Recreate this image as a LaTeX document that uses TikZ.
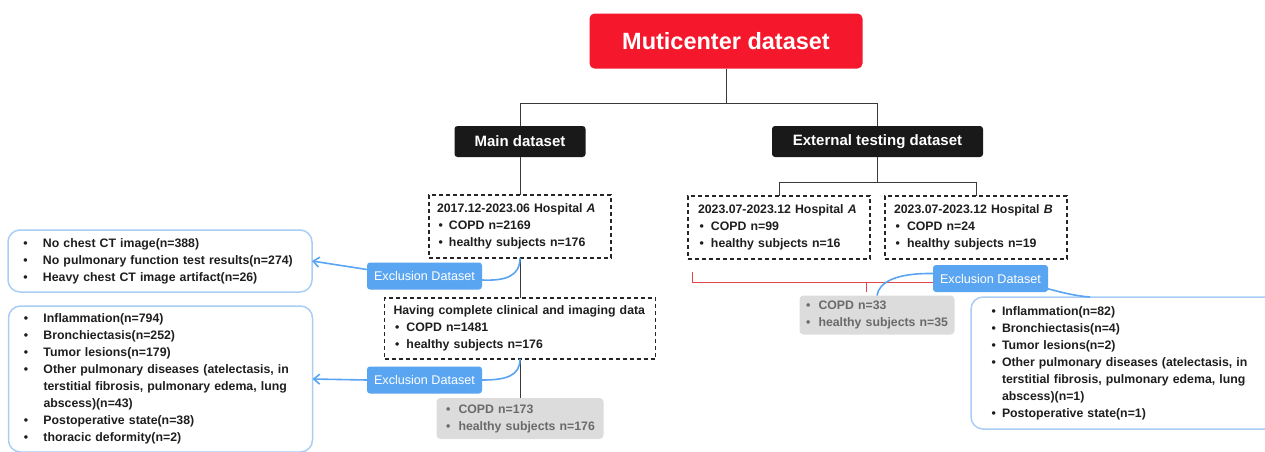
\documentclass[tikz,border=0pt]{standalone}
\usepackage{fontspec}
\setmainfont{Liberation Sans}
\usetikzlibrary{arrows.meta,calc}
\definecolor{redtop}{HTML}{F5182C}
\definecolor{exblue}{HTML}{5AA5F2}
\definecolor{lbblue}{HTML}{A9CDF5}
\definecolor{greyfill}{HTML}{DCDCDC}
\definecolor{greytext}{HTML}{6A6A6A}
\definecolor{conn}{HTML}{3A3A3A}
\definecolor{redln}{HTML}{E0474C}
\definecolor{txt}{HTML}{1E1E1E}
\newcommand{\itm}[2]{\makebox[#1][l]{\hspace{1.5pt}\textbullet}#2}
\begin{document}
\begin{tikzpicture}[x=1pt,y=-1pt,
  every node/.style={inner sep=0pt, outer sep=0pt},
  topbox/.style={fill=redtop, rounded corners=5pt, text=white, font=\fontsize{23.5}{27}\selectfont\bfseries},
  blackbox/.style={fill=black!90, rounded corners=3pt, text=white, font=\fontsize{15}{18}\selectfont\bfseries},
  dbox/.style={draw=black!85, dash pattern=on 4pt off 3pt, line width=1.3pt, text=txt, align=left,
    font=\fontsize{12.3}{17}\selectfont\bfseries},
  gbox/.style={fill=greyfill, rounded corners=4pt, text=greytext, align=left,
    font=\fontsize{12.3}{17}\selectfont\bfseries},
  exbox/.style={fill=exblue, rounded corners=3pt, text=white, font=\fontsize{12.6}{15}\selectfont,
    minimum width=115, minimum height=27},
  lbox/.style={draw=lbblue, line width=1.5pt, rounded corners=12pt, text=txt, align=left,
    font=\fontsize{12.3}{17}\selectfont\bfseries},
  conn/.style={draw=conn, line width=1pt},
  redc/.style={draw=redln, line width=1pt},
  bluec/.style={draw=exblue, line width=1.6pt},
  bluea/.style={draw=exblue, line width=1.6pt, -{Straight Barb[length=6pt,width=10pt]}}
]
\useasboundingbox (0,0) rectangle (1265,451);
\clip (0,0) rectangle (1265,451);

% top level
\node[topbox, minimum width=273, minimum height=55] (top) at (726,41) {Muticenter dataset};
\node[blackbox, minimum width=131, minimum height=31] (main) at (520,141.5) {Main dataset};
\node[blackbox, minimum width=211, minimum height=31] (ext) at (877.5,141.5) {External testing dataset};

% main branch
\node[dbox, minimum height=63, inner xsep=8, text width=166] (h1) at (520,226.5)
  {2017.12-2023.06 Hospital \textit{A}\\\itm{12pt}{COPD n=2169}\\\itm{12pt}{healthy subjects n=176}};
\node[dbox, minimum height=61, inner xsep=9, text width=253] (h2) at (520,328.5)
  {Having complete clinical and imaging data\\\itm{13pt}{COPD n=1481}\\\itm{13pt}{healthy subjects n=176}};
\node[gbox, minimum height=41, inner xsep=8, text width=151] (g1) at (520,418.5)
  {\itm{14pt}{COPD n=173}\\\itm{14pt}{healthy subjects n=176}};

\node[exbox] (e1) at (424.5,276) {Exclusion Dataset};
\node[exbox] (e2) at (424.5,380) {Exclusion Dataset};

\node[lbox, minimum height=62, inner xsep=14, text width=276] (l1) at (160,261)
  {\itm{21pt}{No chest CT image(n=388)}\\\itm{21pt}{No pulmonary function test results(n=274)}\\\itm{21pt}{Heavy chest CT image artifact(n=26)}};
\node[lbox, minimum height=146, inner xsep=14, text width=276] (l2) at (160.5,379)
  {\itm{21pt}{Inflammation(n=794)}\\\itm{21pt}{Bronchiectasis(n=252)}\\\itm{21pt}{Tumor lesions(n=179)}\\
   \itm{21pt}{Other pulmonary diseases (atelectasis, in}\\\hspace*{21pt}terstitial fibrosis, pulmonary edema, lung\\\hspace*{21pt}abscess)(n=43)\\
   \itm{21pt}{Postoperative state(n=38)}\\\itm{21pt}{thoracic deformity(n=2)}};

% external branch
\node[dbox, minimum height=63, inner xsep=10, text width=162] (hA) at (779,227.5)
  {2023.07-2023.12 Hospital \textit{A}\\\itm{13pt}{COPD n=99}\\\itm{13pt}{healthy subjects n=16}};
\node[dbox, minimum height=63, inner xsep=9, text width=164] (hB) at (976,227.5)
  {2023.07-2023.12 Hospital \textit{B}\\\itm{13pt}{COPD n=24}\\\itm{13pt}{healthy subjects n=19}};
\node[exbox] (e3) at (990.5,278.5) {Exclusion Dataset};
\node[gbox, minimum height=39, inner xsep=5, text width=145] (g2) at (877,315)
  {\itm{14pt}{COPD n=33}\\\itm{14pt}{healthy subjects n=35}};
\node[lbox, minimum height=132, inner xsep=19, text width=290] (r3) at (1135,363)
  {\itm{12pt}{Inflammation(n=82)}\\\itm{12pt}{Bronchiectasis(n=4)}\\\itm{12pt}{Tumor lesions(n=2)}\\
   \itm{12pt}{Other pulmonary diseases (atelectasis, in}\\\hspace*{12pt}terstitial fibrosis, pulmonary edema, lung\\\hspace*{12pt}abscess)(n=1)\\
   \itm{12pt}{Postoperative state(n=1)}};

% tree connectors
\draw[conn] (top.south) -- ++(0,35) -| (main.north);
\draw[conn] (top.south) -- ++(0,35) -| (ext.north);
\draw[conn] (main.south) -- (h1.north);
\draw[conn] (h1.south) -- (h2.north);
\draw[conn] (h2.south) -- (g1.north);
\draw[conn] (ext.south) -- ++(0,25) -| (hA.north);
\draw[conn] (ext.south) -- ++(0,25) -| (hB.north);

% exclusion links (main)
\draw[bluec] (h1.south) .. controls (520,276) and (506,281) .. ($(e1.east)+(0,4)$);
\draw[bluea] ($(e1.north west)+(0,7)$) -- (l1.east);
\draw[bluec] (h2.south) .. controls (520,376) and (506,380) .. (e2.east);
\draw[bluea] (e2.west) -- (l2.east);

% red bracket (external)
\coordinate (rs) at (692,272);
\coordinate (rj) at (866,282);
\coordinate (rt) at (866,292);
\draw[redc] (rs) |- ($(e3.west)+(0,3.5)$);
\draw[redc] (rj) -- (rt);

% exclusion links (external)
\draw[bluec] ($(e3.west)+(0,-5)$) .. controls (896,273) and (879,282) .. (g2.north);
\draw[bluec] ($(e3.south east)+(-3,-4)$) .. controls (1060,292) and (1075,296) .. ($(r3.north west)+(119,0)$);
\end{tikzpicture}
\end{document}
